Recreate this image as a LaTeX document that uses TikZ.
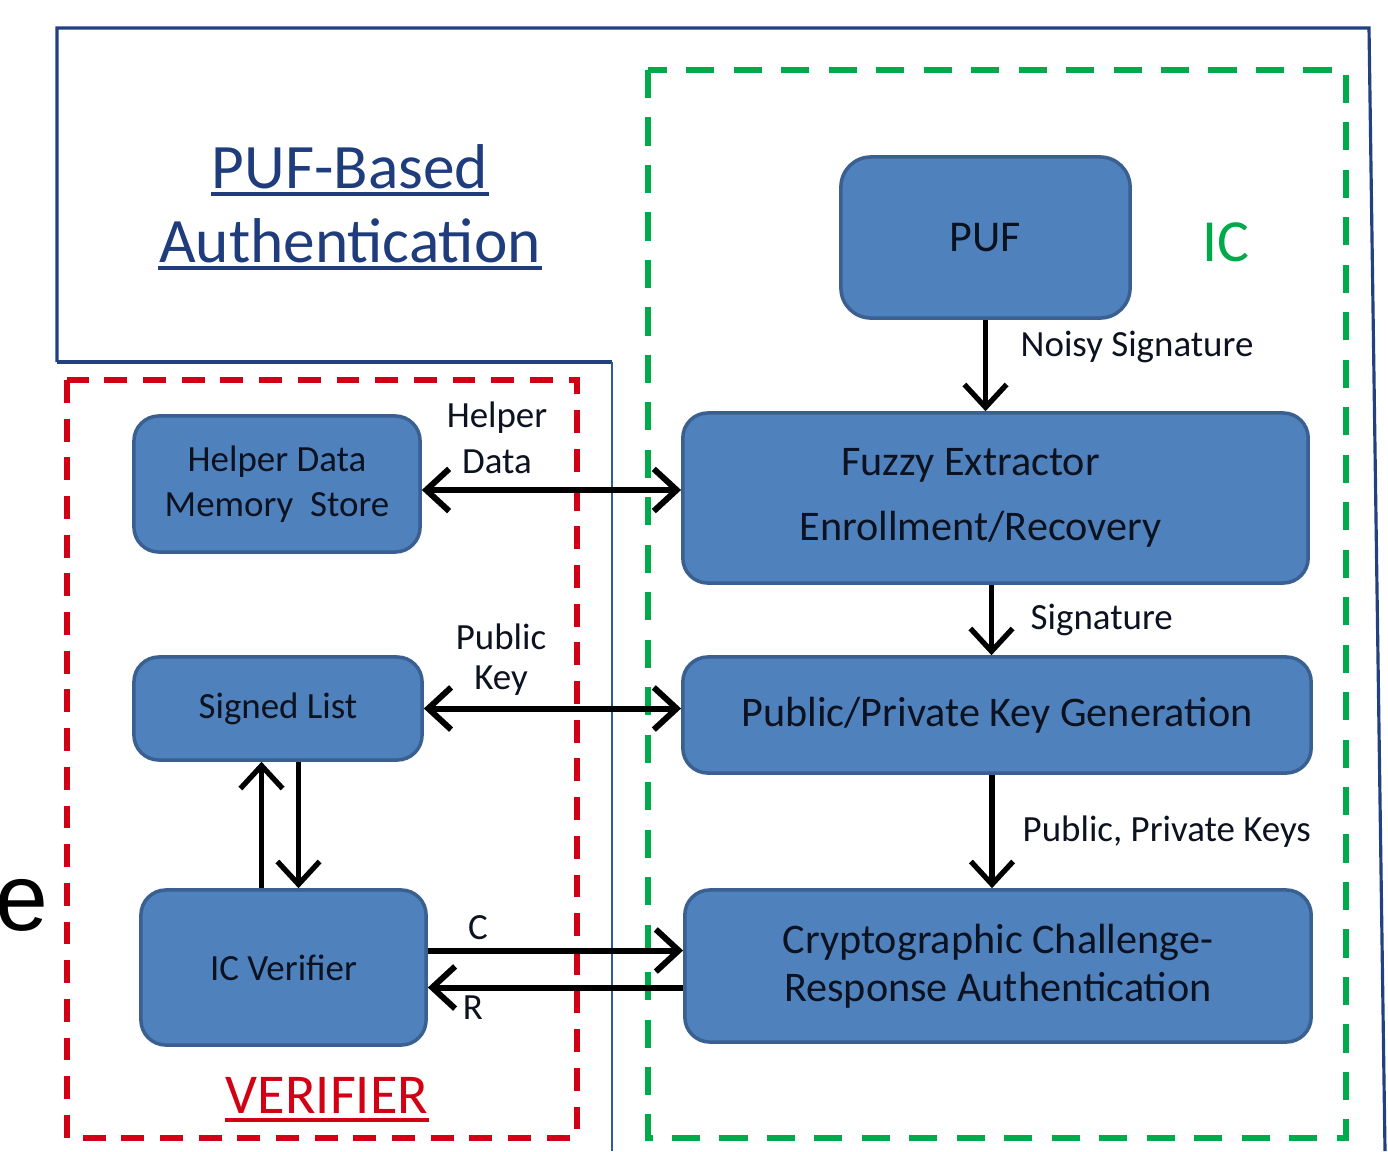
\documentclass[tikz,border=0pt]{standalone}
\usepackage{fontspec}
\setmainfont{Carlito}
\newfontfamily\arialf{Liberation Sans}
\usetikzlibrary{arrows.meta,calc}
\definecolor{boxfill}{RGB}{79,129,189}
\definecolor{boxline}{RGB}{58,96,145}
\definecolor{boxtext}{RGB}{12,18,32}
\definecolor{navy}{RGB}{35,64,128}
\definecolor{linkblue}{RGB}{45,90,160}
\definecolor{titleblue}{RGB}{31,60,125}
\definecolor{vred}{RGB}{210,0,20}
\definecolor{icgreen}{RGB}{0,170,75}
\begin{document}
\begin{tikzpicture}[x=0.01cm,y=-0.01cm,
  >={Straight Barb[length=6.5pt,width=12pt]},
  blk/.style={draw=boxline, line width=1pt, fill=boxfill, rounded corners=0.25cm,
              text=boxtext, align=center, inner sep=0pt},
  bigtxt/.style={font=\fontsize{12}{18}\selectfont},
  smalltxt/.style={font=\fontsize{10.5}{12.8}\selectfont},
  lbl/.style={font=\fontsize{10.5}{12.5}\selectfont, text=boxtext, inner sep=0pt, align=center},
  arr/.style={line width=1.5pt, ->},
  harr/.style={line width=1.7pt, ->},
  darr/.style={line width=1.7pt, <->},
  outline/.style={draw=navy, line width=0.9pt},
  reddash/.style={draw=vred, line width=1.7pt, dash pattern=on 6.5pt off 4.5pt},
  greendash/.style={draw=icgreen, line width=1.7pt, dash pattern=on 8pt off 5.5pt},
]
\useasboundingbox[fill=white] (0,0) rectangle (1388,1151);

% outer blue frame
\draw[outline] (57,362) -- (57,28) -- (1369,28) -- (1385,1151);
\draw[outline] (57,362) -- (612,362);
\draw[draw=linkblue, line width=0.7pt] (612,362) -- (612,1151);

% dashed regions
\draw[reddash] (67,380) rectangle (577,1138);
\draw[greendash] (648,70) rectangle (1346,1138);

% title
\node[font=\fontsize{18}{20}\selectfont, text=titleblue, inner sep=0pt, anchor=base] (t1) at (350,188) {PUF-Based};
\node[font=\fontsize{18}{20}\selectfont, text=titleblue, inner sep=0pt, anchor=base] (t2) at (350,262) {Authentication};
\draw[draw=titleblue, line width=0.9pt] ($(t1.base west)+(0,6)$) -- ($(t1.base east)+(0,6)$);
\draw[draw=titleblue, line width=0.9pt] ($(t2.base west)+(0,6)$) -- ($(t2.base east)+(0,6)$);

% IC label
\node[font=\fontsize{17}{19}\selectfont, text=icgreen, inner sep=0pt] (ic) at (1226,242) {IC};

% VERIFIER label
\node[font=\fontsize{16}{18}\selectfont, text=vred, inner sep=0pt, anchor=base] (ver) at (327,1113) {VERIFIER};
\draw[draw=vred, line width=1pt] ($(ver.base west)+(0,7)$) -- ($(ver.base east)+(0,7)$);

% cropped letter at left
\node[font=\arialf\fontsize{27}{30}\selectfont, text=black, inner sep=0pt] (e) at (22,905) {e};

% blocks
\node[blk, rounded corners=0.3cm, minimum width=2.89cm, minimum height=1.61cm,
      font=\fontsize{12.5}{15}\selectfont] (puf) at (985.5,237.5) {PUF};
\node[blk, minimum width=6.25cm, minimum height=1.70cm,
      font=\fontsize{12}{18.5}\selectfont] (fe) at (995.5,498) {Fuzzy Extractor\hspace*{0.5cm}\\Enrollment/Recovery\hspace*{0.3cm}};
\node[blk, bigtxt, minimum width=6.28cm, minimum height=1.16cm] (pk) at (997,715) {Public/Private Key Generation};
\node[blk, minimum width=6.26cm, minimum height=1.52cm,
      font=\fontsize{12}{13.7}\selectfont] (cc) at (998,966) {Cryptographic Challenge-\\Response Authentication};
\node[blk, smalltxt, minimum width=2.86cm, minimum height=1.36cm] (hd) at (277,484) {Helper Data\\Memory\ \ Store};
\node[blk, smalltxt, minimum width=2.88cm, minimum height=1.03cm] (sl) at (278,708.5) {Signed List};
\node[blk, smalltxt, minimum width=2.85cm, minimum height=1.55cm] (icv) at (283.5,967.5) {IC Verifier};

% connector end points
\coordinate (feS) at ($(fe.south)+(-4,0)$);
\coordinate (pkS) at ($(pk.south)+(-5,0)$);
\coordinate (hdE) at ($(hd.east)+(0,6)$);
\coordinate (icvC) at ($(icv.east)+(0,-17)$);
\coordinate (icvR) at ($(icv.east)+(0,20)$);
\coordinate (icvUp) at ($(icv.north)+(-22,0)$);
\coordinate (icvDn) at ($(icv.north)+(15,0)$);

% connectors
\draw[arr] (puf.south) -- (puf.south |- fe.north);
\draw[arr] (feS) -- (feS |- pk.north);
\draw[arr] (pkS) -- (pkS |- cc.north);
\draw[darr] (hdE) -- (hdE -| fe.west);
\draw[darr] (sl.east) -- (sl.east -| pk.west);
\draw[harr] (icvC) -- (icvC -| cc.west);
\draw[harr] (icvR -| cc.west) -- (icvR);
\draw[arr] (icvUp) -- (icvUp |- sl.south);
\draw[arr] (icvDn |- sl.south) -- (icvDn);

% connector labels
\node[lbl, anchor=west] (lns) at (1020,347) {Noisy Signature};
\node[lbl, anchor=west] (lsig) at (1030,620) {Signature};
\node[lbl, anchor=west] (lppk) at (1022,832) {Public, Private Keys};
\node[lbl] (lh1) at (497,418) {Helper};
\node[lbl] (lh2) at (497,462) {Data};
\node[lbl] (lp1) at (501,637) {Public};
\node[lbl] (lp2) at (501,681) {Key};
\node[lbl] (lc) at (478,928) {C};
\node[lbl] (lr) at (473,1008) {R};
\end{tikzpicture}
\end{document}
